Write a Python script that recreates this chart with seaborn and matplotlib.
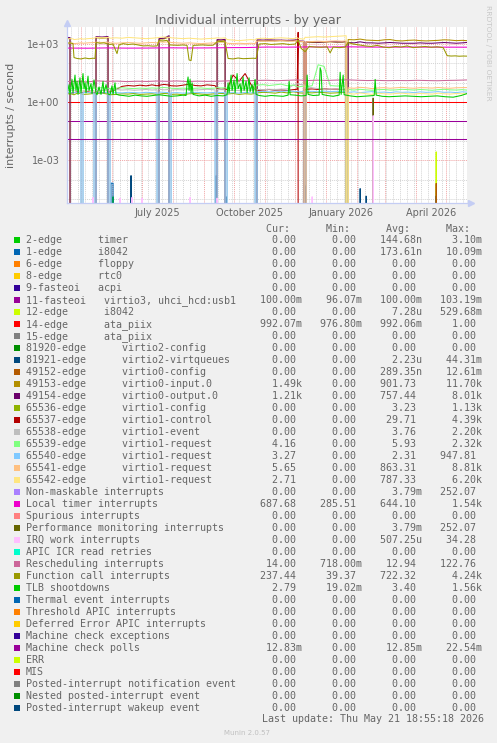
import numpy as np
import pandas as pd
import matplotlib
matplotlib.use("Agg")
import matplotlib.pyplot as plt
import matplotlib.dates as mdates
import matplotlib.transforms as mtransforms
from matplotlib.ticker import FixedLocator, FuncFormatter, NullFormatter
from matplotlib.patches import Rectangle
import seaborn as sns

# ---------------------------------------------------------------- data
START = pd.Timestamp("2025-04-17")
END = pd.Timestamp("2026-05-21 19:00")

TITLE = "Individual interrupts - by year"
YLABEL = "interrupts / second"
XLABELS = ["July 2025", "October 2025", "January 2026", "April 2026"]
XLABEL_DATES = ["2025-07-16", "2025-10-16", "2026-01-16", "2026-04-16"]
Y_MAJOR = [1e-3, 1e0, 1e3]
Y_MINOR = [1e-5, 1e-4, 1e-2, 1e-1, 1e1, 1e2]

LABELS = [
    "2-edge      timer",
    "1-edge      i8042",
    "6-edge      floppy",
    "8-edge      rtc0",
    "9-fasteoi   acpi",
    "11-fasteoi   virtio3, uhci_hcd:usb1",
    "12-edge      i8042",
    "14-edge      ata_piix",
    "15-edge      ata_piix",
    "81920-edge      virtio2-config",
    "81921-edge      virtio2-virtqueues",
    "49152-edge      virtio0-config",
    "49153-edge      virtio0-input.0",
    "49154-edge      virtio0-output.0",
    "65536-edge      virtio1-config",
    "65537-edge      virtio1-control",
    "65538-edge      virtio1-event",
    "65539-edge      virtio1-request",
    "65540-edge      virtio1-request",
    "65541-edge      virtio1-request",
    "65542-edge      virtio1-request",
    "Non-maskable interrupts",
    "Local timer interrupts",
    "Spurious interrupts",
    "Performance monitoring interrupts",
    "IRQ work interrupts",
    "APIC ICR read retries",
    "Rescheduling interrupts",
    "Function call interrupts",
    "TLB shootdowns",
    "Thermal event interrupts",
    "Threshold APIC interrupts",
    "Deferred Error APIC interrupts",
    "Machine check exceptions",
    "Machine check polls",
    "ERR",
    "MIS",
    "Posted-interrupt notification event",
    "Nested posted-interrupt event",
    "Posted-interrupt wakeup event",
]
COLORS = ["#00cc00", "#0066b3", "#ff8000", "#ffcc00", "#330099", "#990099",
          "#ccff00", "#ff0000", "#808080", "#008f00", "#00487d", "#b35a00",
          "#b38f00", "#6b006b", "#8fb300", "#b30000", "#bebebe", "#80ff80",
          "#80c9ff", "#ffc080", "#ffe680", "#aa80ff", "#ee00cc", "#ff8080",
          "#666600", "#ffbfff", "#00ffcc", "#cc6699", "#999900", "#00cc00",
          "#0066b3", "#ff8000", "#ffcc00", "#330099", "#990099", "#ccff00",
          "#ff0000", "#808080", "#008f00", "#00487d"]
CUR = ["0.00", "0.00", "0.00", "0.00", "0.00", "100.00m", "0.00", "992.07m",
       "0.00", "0.00", "0.00", "0.00", "1.49k", "1.21k", "0.00", "0.00",
       "0.00", "4.16", "3.27", "5.65", "2.71", "0.00", "687.68", "0.00",
       "0.00", "0.00", "0.00", "14.00", "237.44", "2.79", "0.00", "0.00",
       "0.00", "0.00", "12.83m", "0.00", "0.00", "0.00", "0.00", "0.00"]
MIN = ["0.00", "0.00", "0.00", "0.00", "0.00", "96.07m", "0.00", "976.80m",
       "0.00", "0.00", "0.00", "0.00", "0.00", "0.00", "0.00", "0.00",
       "0.00", "0.00", "0.00", "0.00", "0.00", "0.00", "285.51", "0.00",
       "0.00", "0.00", "0.00", "718.00m", "39.37", "19.02m", "0.00", "0.00",
       "0.00", "0.00", "0.00", "0.00", "0.00", "0.00", "0.00", "0.00"]
AVG = ["144.68n", "173.61n", "0.00", "0.00", "0.00", "100.00m", "7.28u", "992.06m",
       "0.00", "0.00", "2.23u", "289.35n", "901.73", "757.44", "3.23", "29.71",
       "3.76", "5.93", "2.31", "863.31", "787.33", "3.79m", "644.10", "0.00",
       "3.79m", "507.25u", "0.00", "12.94", "722.32", "3.40", "0.00", "0.00",
       "0.00", "0.00", "12.85m", "0.00", "0.00", "0.00", "0.00", "0.00"]
MAX = ["3.10m", "10.09m", "0.00", "0.00", "0.00", "103.19m", "529.68m", "1.00",
       "0.00", "0.00", "44.31m", "12.61m", "11.70k", "8.01k", "1.13k", "4.39k",
       "2.20k", "2.32k", "947.81", "8.81k", "6.20k", "252.07", "1.54k", "0.00",
       "252.07", "34.28", "0.00", "122.76", "4.24k", "1.56k", "0.00", "0.00",
       "0.00", "0.00", "22.54m", "0.00", "0.00", "0.00", "0.00", "0.00"]

# day offsets from START (virtio device interrupts share one sampling grid)
V_DAYS = [0, 3, 6, 7, 11, 14, 15, 16, 21, 27,
          28, 29, 35, 41, 42, 43, 49, 55, 61, 67,
          73, 79, 85, 90, 91, 92, 97, 102, 103, 104,
          110, 116, 122, 128, 134, 140, 148, 149, 150, 154,
          158, 159, 160, 166, 172, 178, 184, 188, 189, 190,
          196, 202, 208, 214, 220, 226, 230, 231, 232, 237,
          238, 239, 245, 251, 257, 263, 269, 275, 279, 280,
          281, 287, 293, 299, 305, 311, 317, 323, 329, 335,
          341, 347, 353, 359, 365, 371, 377, 383, 389, 395,
          400]
V49153 = [1900, 2000, 0, 0, 0, 0, 0, 0, 0, 0,
          0, 2100, 2000, 2100, 0, 0, 0, 0, 0, 0,
          0, 0, 0, 0, 0, 1800, 1850, 2300, 0, 0,
          0, 0, 0, 0, 0, 0, 0, 0, 1500, 1450,
          1500, 0, 0, 0, 0, 0, 0, 0, 0, 1500,
          1450, 1500, 1450, 1500, 1450, 1500, 1550, 1400, 1350, 1300,
          0, 1250, 1200, 1200, 1250, 1300, 1250, 1250, 1300, 0,
          1700, 1650, 1800, 1600, 1550, 1500, 1650, 1700, 1500, 1450,
          1550, 1600, 1500, 1450, 1500, 1550, 1650, 1600, 1500, 1550,
          1490]
V49154 = [2200, 2150, 0, 0, 0, 0, 0, 0, 0, 0,
          0, 2400, 2300, 2450, 0, 0, 0, 0, 0, 0,
          0, 0, 0, 0, 0, 1900, 2000, 2700, 0, 0,
          0, 0, 0, 0, 0, 0, 0, 0, 1700, 1650,
          1750, 0, 0, 0, 0, 0, 0, 0, 0, 1650,
          1600, 1650, 1600, 1600, 1550, 1600, 1650, 1500, 1450, 1400,
          0, 1300, 1300, 1250, 1300, 1350, 1300, 1300, 1350, 0,
          1200, 1150, 1300, 1150, 1150, 1100, 1150, 1200, 1150, 1100,
          1100, 1100, 1150, 1100, 1100, 1150, 1200, 1150, 1100, 1150,
          1210]
V65536 = [2.6, 2.8, 2.5, 2.4, 3.0, 2.7, 2.6, 2.5, 2.6, 2.8,
          2.7, 2.7, 2.9, 2.6, 2.5, 2.4, 2.5, 2.7, 2.6, 2.8,
          2.5, 2.6, 2.7, 2.5, 2.6, 2.6, 2.8, 2.7, 2.6, 2.5,
          2.6, 2.4, 2.7, 2.8, 2.6, 2.5, 2.7, 2.8, 2.9, 2.8,
          2.7, 2.7, 2.6, 2.8, 2.5, 2.7, 2.6, 2.8, 2.9, 3.0,
          3.2, 3.1, 2.9, 3.3, 3.0, 3.4, 3.2, 3.1, 3.0, 2.9,
          3.0, 3.1, 3.0, 3.2, 3.1, 2.9, 3.0, 3.2, 3.1, 0,
          0, 0, 0, 0, 0, 0, 0, 0, 0, 0,
          0, 0, 0, 0, 0, 0, 0, 0, 0, 0,
          0]
V65537 = [3.0, 3.2, 2.9, 3.1, 3.5, 3.0, 3.1, 3.2, 3.4, 3.0,
          3.2, 3.3, 3.1, 3.2, 3.3, 3.5, 4.5, 6.5, 7.2, 6.8,
          7.5, 6.9, 7.8, 7.0, 7.2, 7.4, 8.2, 7.6, 7.3, 7.0,
          6.8, 7.5, 8.5, 7.2, 6.9, 7.8, 7.1, 6.0, 5.0, 4.6,
          4.8, 4.6, 4.5, 25, 12, 30, 8.0, 4.5, 4.2, 4.0,
          4.2, 4.5, 4.1, 4.3, 4.0, 4.4, 4.6, 4000, 0, 4.3,
          4.4, 4.6, 4.8, 4.5, 4.9, 4.6, 4.7, 4.4, 4.5, 0,
          0, 0, 0, 0, 0, 0, 0, 0, 0, 0,
          0, 0, 0, 0, 0, 0, 0, 0, 0, 0,
          0]
V65538 = [4.0, 4.2, 3.9, 4.1, 4.3, 4.0, 0, 4.1, 4.2, 3.9,
          0, 4.1, 4.0, 4.2, 0, 4.3, 4.5, 4.2, 4.4, 4.1,
          4.3, 4.5, 4.2, 4.4, 0, 4.6, 4.3, 4.5, 0, 4.2,
          4.4, 4.3, 4.5, 4.2, 4.4, 4.6, 4.3, 0, 4.5, 4.4,
          4.3, 0, 3.9, 4.1, 4.0, 4.2, 4.1, 4.3, 0, 4.5,
          4.4, 4.6, 4.5, 4.7, 4.8, 7.5, 8.5, 9.0, 8.2, 7.8,
          0, 6.5, 5.5, 5.0, 4.8, 4.6, 4.8, 4.5, 4.7, 0,
          0, 0, 0, 0, 0, 0, 0, 0, 0, 0,
          0, 0, 0, 0, 0, 0, 0, 0, 0, 0,
          0]
V65539 = [5.0, 5.5, 4.8, 5.2, 5.6, 5.1, 5.2, 5.3, 5.0, 5.4,
          5.3, 5.2, 5.6, 5.1, 5.2, 5.0, 5.3, 5.5, 5.2, 5.0,
          5.3, 5.1, 5.4, 5.2, 5.3, 5.5, 5.7, 5.4, 5.5, 5.2,
          5.1, 5.3, 5.0, 5.2, 5.4, 5.1, 5.3, 5.4, 5.6, 5.4,
          5.5, 5.3, 5.2, 5.0, 5.3, 5.1, 5.4, 5.2, 7.0, 7.5,
          8.0, 7.2, 7.8, 8.5, 7.0, 7.6, 6.5, 6.0, 6.2, 6.8,
          6.6, 6.5, 7.0, 85, 70, 7.2, 6.8, 7.0, 6.6, 0,
          4.5, 4.2, 4.6, 4.3, 4.1, 4.4, 4.5, 4.2, 4.3, 4.6,
          4.4, 4.2, 4.5, 4.3, 4.1, 4.4, 4.6, 4.3, 4.2, 4.4,
          4.16]
V65540 = [3.0, 3.2, 2.9, 3.1, 3.3, 3.0, 0, 3.1, 3.2, 2.9,
          0, 3.1, 3.0, 3.2, 0, 2.9, 3.1, 3.0, 3.2, 3.1,
          3.0, 3.2, 3.1, 3.0, 0, 3.3, 3.2, 3.1, 0, 3.0,
          3.1, 2.9, 3.0, 3.2, 3.1, 3.0, 3.2, 0, 3.3, 3.1,
          3.2, 0, 3.0, 3.1, 2.9, 3.2, 3.0, 3.1, 0, 3.5,
          3.6, 3.4, 3.7, 3.5, 3.8, 3.6, 3.5, 3.7, 3.4, 3.6,
          0, 3.5, 3.6, 3.4, 3.7, 3.5, 3.6, 3.4, 3.5, 0,
          3.2, 3.4, 3.1, 3.3, 3.5, 3.2, 3.3, 3.1, 3.4, 3.2,
          3.3, 3.1, 3.4, 3.2, 3.3, 3.5, 3.2, 3.3, 3.1, 3.4,
          3.27]
V65541 = [1100, 1150, 1100, 1050, 1100, 1150, 1150, 1100, 1150, 1200,
          1200, 1250, 1200, 1250, 1200, 1150, 1100, 1150, 1200, 1150,
          1100, 1150, 1200, 1150, 1250, 1300, 1250, 1300, 1250, 1200,
          1150, 1100, 1150, 1100, 1050, 1100, 1150, 1200, 1300, 1250,
          1300, 1200, 1100, 1050, 1100, 1050, 1100, 1050, 1350, 1400,
          1450, 1400, 1450, 1500, 1450, 1400, 1500, 1450, 1400, 1350,
          0, 1300, 1350, 1400, 1350, 1400, 1450, 1400, 1450, 0,
          5.5, 5.2, 5.8, 5.5, 5.0, 5.4, 5.6, 5.2, 5.5, 5.8,
          5.4, 5.2, 5.6, 5.5, 5.3, 5.7, 5.4, 5.2, 5.5, 5.6,
          5.65]
V65542 = [1800, 1900, 1850, 1700, 1800, 1900, 1850, 1800, 1900, 2000,
          2100, 2200, 2100, 2200, 2150, 2000, 2100, 2000, 2200, 2100,
          2000, 1900, 2000, 2100, 2150, 2200, 2300, 2200, 2200, 2100,
          2000, 1900, 2000, 1900, 1800, 1900, 2000, 2050, 2100, 2000,
          2100, 1900, 1700, 1600, 1500, 1600, 1700, 1600, 1850, 1900,
          2000, 1900, 2000, 2100, 2000, 1900, 2100, 2000, 1900, 1800,
          2250, 2200, 2300, 2400, 2300, 2400, 2500, 2600, 2700, 0,
          2.8, 2.6, 3.0, 2.7, 2.5, 2.9, 2.7, 2.6, 2.8, 2.9,
          2.7, 2.6, 2.8, 2.7, 2.6, 2.9, 2.7, 2.6, 2.8, 2.7,
          2.71]

FC_DAYS = [0, 3, 6, 7, 10, 14, 18, 22, 26, 28,
           29, 33, 37, 41, 43, 46, 50, 52, 56, 61,
           66, 71, 76, 81, 86, 90, 92, 96, 100, 103,
           106, 111, 116, 120, 122, 124, 126, 131, 136, 141,
           146, 150, 154, 158, 161, 166, 171, 176, 181, 186,
           189, 192, 198, 204, 210, 216, 222, 228, 231, 234,
           238, 242, 248, 254, 260, 263, 266, 272, 278, 281,
           286, 292, 298, 304, 310, 316, 322, 328, 334, 340,
           346, 352, 358, 364, 370, 376, 380, 384, 388, 392,
           396, 400]
FC_VALS = [1100, 1150, 1050, 200, 180, 170, 190, 175, 185, 180,
           1200, 1100, 1150, 1000, 950, 1000, 320, 900, 1050, 950,
           1000, 900, 800, 820, 780, 800, 1500, 1450, 1550, 900,
           880, 860, 900, 850, 150, 140, 850, 880, 900, 860,
           870, 1300, 1350, 1300, 180, 170, 190, 175, 180, 185,
           180, 1000, 1050, 950, 1000, 1050, 950, 1000, 1600, 600,
           400, 750, 700, 680, 720, 350, 700, 650, 700, 1200,
           1000, 900, 800, 750, 850, 700, 650, 750, 700, 800,
           650, 700, 750, 680, 720, 650, 250, 240, 245, 235,
           240, 237]

LT_DAYS = [0, 20, 40, 60, 80, 100, 120, 140, 160, 180, 200,
           220, 240, 260, 280, 300, 320, 340, 360, 380, 400]
LT_VALS = [620, 610, 630, 615, 620, 640, 625, 630, 650, 660, 700,
           690, 710, 700, 720, 700, 690, 700, 695, 690, 688]

RS_DAYS = [0, 10, 20, 30, 40, 50, 60, 70, 80, 90,
           100, 110, 120, 130, 140, 150, 160, 170, 180, 190,
           200, 210, 220, 230, 240, 250, 260, 270, 280, 290,
           300, 310, 320, 330, 340, 350, 360, 370, 380, 390,
           400]
RS_VALS = [11.5, 12.0, 11.0, 12.5, 11.8, 12.2, 11.5, 12.0, 11.7, 12.3,
           11.9, 12.4, 11.6, 12.1, 11.8, 12.0, 12.5, 13.0, 12.6, 13.2,
           13.5, 12.8, 13.4, 14.0, 13.0, 13.6, 13.2, 13.8, 14.2, 13.5,
           13.0, 13.3, 12.8, 13.1, 12.9, 13.4, 13.0, 12.7, 13.2, 13.5,
           14.0]

TLB_DAYS = [0, 2, 3, 5, 6, 8, 9, 10, 11, 13,
            14, 16, 17, 18, 19, 21, 22, 24, 25, 27,
            29, 30, 32, 34, 36, 37, 39, 41, 43, 45,
            46, 48, 49, 52, 56, 62, 68, 74, 80, 86,
            92, 98, 104, 110, 116, 119, 120, 121, 122, 123,
            124, 125, 126, 132, 138, 144, 150, 156, 160, 161,
            162, 164, 165, 167, 168, 170, 171, 173, 174, 176,
            177, 179, 180, 182, 183, 185, 186, 188, 189, 192,
            198, 204, 210, 216, 221, 222, 223, 228, 234, 239,
            240, 241, 246, 252, 253, 254, 255, 260, 266, 272,
            273, 274, 276, 277, 283, 290, 296, 302, 307, 308,
            309, 315, 322, 330, 338, 346, 354, 362, 370, 378,
            386, 394, 400]
TLB_VALS = [2.2, 8, 2.5, 15, 3, 25, 4, 12, 2.5, 18,
            3, 30, 5, 10, 3, 22, 4, 9, 2.8, 14,
            3, 2.4, 6, 2.5, 12, 3, 8, 2.6, 2.4, 7,
            2.5, 10, 2.6, 2.3, 2.2, 2.0, 2.3, 2.1, 2.0, 2.2,
            2.4, 2.2, 2.0, 2.1, 2.3, 2.2, 9, 20, 4, 15,
            3, 10, 2.5, 2.1, 2.3, 2.0, 2.2, 2.1, 2.4, 10,
            3, 25, 4, 14, 3, 30, 5, 9, 3, 20,
            4, 12, 3, 18, 3.5, 8, 3, 15, 2.5, 2.2,
            2.0, 2.2, 2.1, 2.0, 2.3, 12, 2.4, 2.3, 2.1, 2.2,
            25, 2.5, 2.2, 2.3, 60, 40, 2.5, 2.2, 2.0, 2.3,
            35, 2.5, 25, 2.4, 2.1, 1.9, 2.0, 2.1, 2.2, 15,
            2.3, 2.0, 1.9, 2.0, 2.1, 2.0, 1.9, 2.0, 2.1, 1.9,
            1.8, 2.2, 2.79]

FLAT_DAYS = [0, 400]
ATA14_VALS = [0.992, 0.992]
FASTEOI11_VALS = [0.1, 0.1]
MCP_VALS = [0.01283, 0.01283]

# sparse activity near the bottom of the scale
S81921_DAYS = [0, 1, 63, 64, 65, 148, 149, 150, 158, 159, 160, 237,
               238, 239, 292, 293, 294, 298, 299, 300, 368, 369, 370, 400]
S81921_VALS = [7.6e-5, 0, 0, 1.6e-4, 0, 0, 1.6e-4, 0, 0, 1.3e-5, 0, 0,
               4.8e-5, 0, 0, 3.4e-5, 0, 0, 1.4e-5, 0, 0, 1.4e-5, 0, 0]
S1EDGE_DAYS = [0, 43, 44, 46, 47, 400]
S1EDGE_VALS = [0, 0, 6.5e-5, 6.5e-5, 0, 0]
S2EDGE_DAYS = [0, 45, 46, 47, 400]
S2EDGE_VALS = [0, 0, 1.3e-5, 0, 0]
IRQ_DAYS = [0, 25, 26, 27, 52, 53, 54, 64, 65, 66,
            74, 75, 76, 122, 123, 124, 149, 150, 151, 244,
            245, 246, 305, 306, 307, 400]
IRQ_VALS = [0, 0, 1.2e-5, 0, 0, 1.1e-5, 0, 0, 1.2e-5, 0,
            0, 1.1e-5, 0, 0, 1.2e-5, 0, 0, 1.1e-5, 0, 0,
            1.3e-5, 0, 0, 0.2, 0, 0]
PERF_DAYS = [0, 305, 306, 307, 400]
PERF_VALS = [0, 0, 1.6, 0, 0]
NMI_VALS = [0, 0, 1.6, 0, 0]
S12_DAYS = [0, 368, 369, 370, 400]
S12_VALS = [0, 0, 2.7e-3, 0, 0]
S49152_VALS = [0, 0, 6.3e-5, 0, 0]

PLOTTED = {
    LABELS[0]: (S2EDGE_DAYS, S2EDGE_VALS),
    LABELS[1]: (S1EDGE_DAYS, S1EDGE_VALS),
    LABELS[5]: (FLAT_DAYS, FASTEOI11_VALS),
    LABELS[6]: (S12_DAYS, S12_VALS),
    LABELS[7]: (FLAT_DAYS, ATA14_VALS),
    LABELS[10]: (S81921_DAYS, S81921_VALS),
    LABELS[11]: (S12_DAYS, S49152_VALS),
    LABELS[12]: (V_DAYS, V49153),
    LABELS[13]: (V_DAYS, V49154),
    LABELS[14]: (V_DAYS, V65536),
    LABELS[15]: (V_DAYS, V65537),
    LABELS[16]: (V_DAYS, V65538),
    LABELS[17]: (V_DAYS, V65539),
    LABELS[18]: (V_DAYS, V65540),
    LABELS[19]: (V_DAYS, V65541),
    LABELS[20]: (V_DAYS, V65542),
    LABELS[21]: (PERF_DAYS, NMI_VALS),
    LABELS[22]: (LT_DAYS, LT_VALS),
    LABELS[24]: (PERF_DAYS, PERF_VALS),
    LABELS[25]: (IRQ_DAYS, IRQ_VALS),
    LABELS[27]: (RS_DAYS, RS_VALS),
    LABELS[28]: (FC_DAYS, FC_VALS),
    LABELS[29]: (TLB_DAYS, TLB_VALS),
    LABELS[34]: (FLAT_DAYS, MCP_VALS),
}

# ---------------------------------------------------------------- style
sns.set_style("white")
plt.rcParams["font.family"] = ["DejaVu Sans"]
TXT = "#666666"
AXIS_C = "#c4cdf4"
MONO = "DejaVu Sans Mono"

W, H = 497, 743
fig = plt.figure(figsize=(W / 100, H / 100), dpi=100, facecolor="#f0f0f0")
px = mtransforms.Affine2D().scale(1 / W, -1 / H).translate(0, 1) + fig.transFigure
ax = fig.add_axes([67 / W, 1 - 203 / H, 400 / W, 176 / H])
ax.set_facecolor("white")

frames = []
for lab in LABELS:
    if lab in PLOTTED:
        d, v = PLOTTED[lab]
        frames.append(pd.DataFrame({
            "date": START + pd.to_timedelta(d, unit="D"),
            "value": v,
            "series": lab,
        }))
df = pd.concat(frames, ignore_index=True)
order = [lab for lab in LABELS if lab in PLOTTED]
palette = dict(zip(LABELS, COLORS))

sns.lineplot(data=df, x="date", y="value", hue="series", hue_order=order,
             palette=palette, estimator=None, errorbar=None, legend=False,
             linewidth=0.75, ax=ax)

ax.set_yscale("log", nonpositive="clip")
ax.set_ylim(10 ** -5.21, 10 ** 3.88)
ax.set_xlim(mdates.date2num(START), mdates.date2num(END))
ax.set_xlabel("")
ax.set_ylabel("")

ax.xaxis.set_major_locator(mdates.MonthLocator())
ax.xaxis.set_minor_locator(mdates.WeekdayLocator(byweekday=mdates.MO))
ax.xaxis.set_major_formatter(NullFormatter())
ax.xaxis.set_minor_formatter(NullFormatter())
ax.yaxis.set_major_locator(FixedLocator(Y_MAJOR))
ax.yaxis.set_minor_locator(FixedLocator(Y_MINOR))
ax.yaxis.set_major_formatter(FuncFormatter(lambda v, p: f"{v:.0e}"))
ax.yaxis.set_minor_formatter(NullFormatter())
ax.tick_params(which="both", length=0)
ax.tick_params(axis="y", labelsize=7, labelcolor=TXT, pad=5.5)

ax.grid(which="minor", color="#d4d4d4", linestyle=(0, (1, 1)), linewidth=0.7)
ax.grid(which="major", color="#f0a4a4", linestyle=(0, (1, 1)), linewidth=0.7)
ax.set_axisbelow(True)

for s in ["top", "right"]:
    ax.spines[s].set_visible(False)
for s in ["left", "bottom"]:
    ax.spines[s].set_color(AXIS_C)
    ax.spines[s].set_linewidth(0.9)

ax.plot([0], [1 + 4 / 176], marker="^", ms=4.5, color=AXIS_C,
        transform=ax.transAxes, clip_on=False)
ax.plot([1 + 4 / 400], [0], marker=">", ms=4.5, color=AXIS_C,
        transform=ax.transAxes, clip_on=False)

for d, lab in zip(XLABEL_DATES, XLABELS):
    ax.text(mdates.date2num(pd.Timestamp(d)), -13 / 176, lab,
            transform=ax.get_xaxis_transform(), ha="center", va="baseline",
            fontsize=7, color=TXT)

# ---------------------------------------------------------------- texts
fig.text(248, 24, TITLE, transform=px, ha="center", va="baseline",
         fontsize=9, color=TXT)
fig.text(11, 115, YLABEL, transform=px, ha="center", va="center",
         rotation=90, fontsize=8, color=TXT)
fig.text(488, 53, "RRDTOOL / TOBI OETIKER", transform=px, ha="center",
         va="center", rotation=270, fontsize=5.4, color="#c8c8c8")


def fld(s):
    if s[-1] in "kmun":
        return s[:-1].rjust(9) + s[-1]
    return s.rjust(9) + " "


fig.text(242, 231.5, "    Cur:      Min:      Avg:      Max:", transform=px,
         ha="left", va="baseline", fontsize=7.2, family=MONO, color=TXT)
for i, (lab, col, c, mn, av, mx) in enumerate(zip(LABELS, COLORS, CUR, MIN, AVG, MAX)):
    yb = 243 + 12 * i
    fig.add_artist(Rectangle((14, yb - 6.3), 6, 6, transform=px,
                             facecolor=col, edgecolor="none"))
    fig.text(26, yb, lab, transform=px, ha="left", va="baseline",
             fontsize=7.2, family=MONO, color=TXT)
    fig.text(242, yb, "".join(fld(v) for v in (c, mn, av, mx)), transform=px,
             ha="left", va="baseline", fontsize=7.2, family=MONO, color=TXT)

fig.text(262, 722.5, "Last update: Thu May 21 18:55:18 2026", transform=px,
         ha="left", va="baseline", fontsize=7.2, family=MONO, color=TXT)
fig.text(247, 735, "Munin 2.0.57", transform=px, ha="center", va="baseline",
         fontsize=5, color="#c0c0c0")

fig.savefig("out.png", dpi=100, facecolor=fig.get_facecolor())
